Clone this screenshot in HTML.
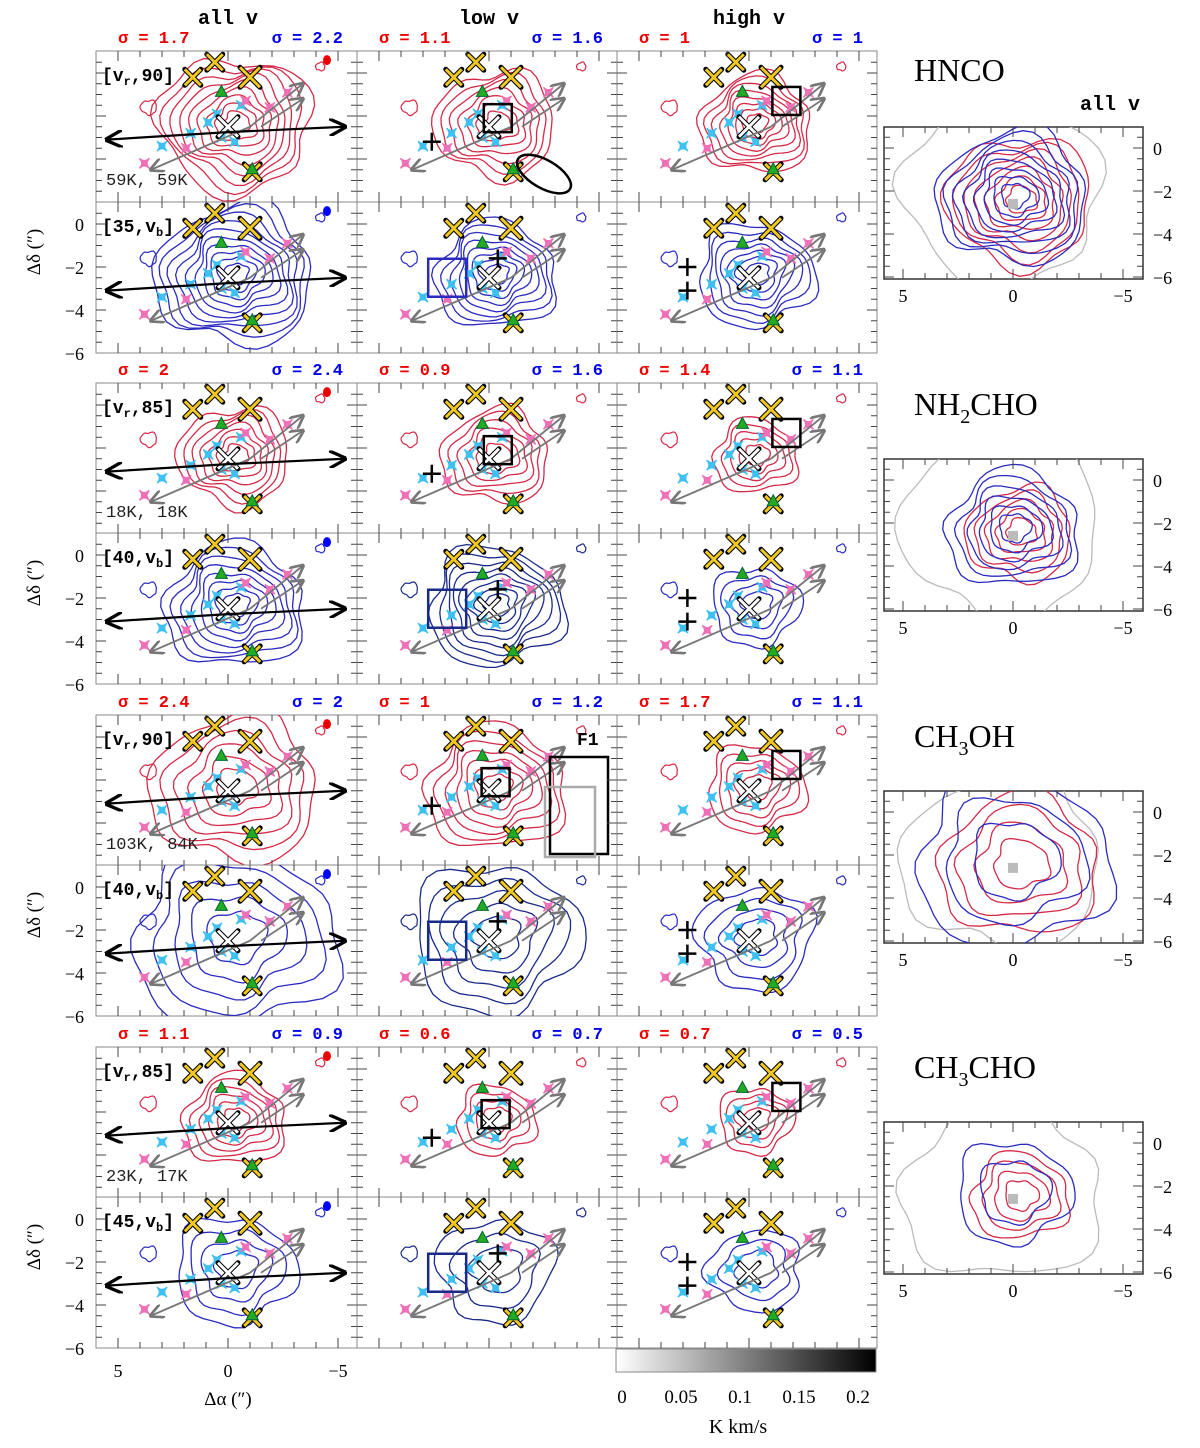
<!DOCTYPE html>
<html><head><meta charset="utf-8"><style>
html,body{margin:0;padding:0;background:#fff;}
svg{display:block;font-family:"Liberation Serif",serif;}
</style></head><body>
<svg id="fig" width="1200" height="1448" viewBox="0 0 1200 1448" xmlns="http://www.w3.org/2000/svg">
<defs>
<linearGradient id="cbar" x1="0" x2="1" y1="0" y2="0"><stop offset="0" stop-color="#fff"/><stop offset="1" stop-color="#000"/></linearGradient>
<marker id="ahB" markerWidth="8" markerHeight="8" refX="7" refY="4" orient="auto"><path d="M0,0 L8,4 L0,8" fill="none" stroke="#000" stroke-width="1.5"/></marker>
<marker id="ahG" markerWidth="8" markerHeight="8" refX="7" refY="4" orient="auto"><path d="M0,0 L8,4 L0,8" fill="none" stroke="#777" stroke-width="1.5"/></marker>
</defs>
<g id="root"></g>
</svg>
<script>
// ---- data ----
const colHeaders = ["all v","low v","high v"];
const sigmaRed  = [1.7,1.1,1, 2,0.9,1.4, 2.4,1,1.7, 1.1,0.6,0.7];
const sigmaBlue = [2.2,1.6,1, 2.4,1.6,1.1, 2,1.2,1.1, 0.9,0.7,0.5];
const molecules = ["HNCO","NH2CHO","CH3OH","CH3CHO"];
const redRangeLabels  = ["90","85","90","85"];
const blueRangeLabels = ["35","40","40","45"];
const tempLabels = ["59K, 59K","18K, 18K","103K, 84K","23K, 17K"];
// contour outer radius (arcsec) per molecule x col, and number of levels
const redOuter  = [[3.3,2.6,2.4],[2.4,2.3,1.8],[3.6,3.0,2.1],[2.2,1.7,1.6]];
const redLevels = [[9,7,8],[7,6,5],[6,7,5],[6,4,4]];
const blueOuter  = [[3.4,2.6,2.5],[3.0,2.9,1.9],[4.4,3.6,2.5],[2.6,2.5,2.0]];
const blueLevels = [[10,8,7],[8,8,4],[5,5,4],[4,3,3]];
// source markers (arcsec: dAlpha, dDelta)
const yellowX = [[0.6,0.5],[1.6,-0.2],[-1.0,-0.2],[-1.1,-4.6]];
const cyanStars = [[0.5,-1.9],[0.3,-3.0],[-0.3,-3.2],[1.7,-2.8],[0.9,-2.3],[-0.6,-1.5],[3.0,-3.4]];
const pinkStars = [[3.8,-4.2],[-0.8,-1.3],[-2.7,-0.9],[-1.9,-1.6],[1.9,-3.5]];
const greenTri = [[0.3,-0.9],[-1.1,-4.5]];
const sqLow = [[-0.4,-2.1],[-0.4,-2.1],[-0.3,-2.1],[-0.3,-2.1]];
const sqLowBlue = [[1.9,-2.5],[1.9,-2.5],[1.9,-2.5],[1.9,-2.5]];
const sqHigh = [[-1.7,-1.3],[-1.7,-1.3],[-1.7,-1.3],[-1.7,-1.3]];
const rightCbarTicks = ["0","0.05","0.1","0.15","0.2"];
const rightCbarValues = [0,0.05,0.1,0.15,0.2];

// ---- layout ----
const NS="http://www.w3.org/2000/svg";
const root=document.getElementById('root');
const colLeft=[96,357,617], colW=[261,260,260];
const rowTop=[51,202,383,533,715,865,1047,1197], rowH=151;
const SX=22, SY=21.5;
function el(tag,attrs,parent){const e=document.createElementNS(NS,tag);for(const k in attrs)e.setAttribute(k,attrs[k]);(parent||root).appendChild(e);return e;}
function txt(s,x,y,attrs,parent){const t=el('text',Object.assign({x:x,y:y},attrs),parent);t.textContent=s;return t;}

function blobPath(X,Y,cx,cy,r,ph){
  let d='';
  for(let i=0;i<=48;i++){
    const t=i/48*Math.PI*2;
    const rr=r*(1+0.09*Math.sin(3*t+ph)+0.06*Math.cos(5*t+ph*1.7)+0.04*Math.sin(7*t+ph*0.3));
    const x=X(cx+rr*Math.cos(t)*1.05), y=Y(cy+rr*Math.sin(t)*0.95);
    d+=(i?'L':'M')+x.toFixed(1)+','+y.toFixed(1);
  }
  return d+'Z';
}
function contours(g,X,Y,outer,n,color,ph,cx,cy){
  for(let k=0;k<n;k++){
    const r=outer*(1-k/(n+0.6));
    const p=el('path',{d:blobPath(X,Y,cx-0.1*k/n,cy+0.1*k/n,r,ph+k*0.5),fill:'none',stroke:color,'stroke-width':1.3},g);
    
    
  }
}
function xMark(g,X,Y,a,d,s,color){
  const x=X(a),y=Y(d);
  el('path',{d:`M${x-s},${y-s}L${x+s},${y+s}M${x-s},${y+s}L${x+s},${y-s}`,stroke:'#000','stroke-width':5,'stroke-linecap':'round'},g);
  el('path',{d:`M${x-s},${y-s}L${x+s},${y+s}M${x-s},${y+s}L${x+s},${y-s}`,stroke:color,'stroke-width':3},g);
}
function star(g,X,Y,a,d,s,color){
  const x=X(a),y=Y(d);
  el('path',{d:`M${x-s},${y-s}Q${x},${y} ${x+s},${y-s}Q${x},${y} ${x+s},${y+s}Q${x},${y} ${x-s},${y+s}Q${x},${y} ${x-s},${y-s}Z`,fill:color,stroke:color,'stroke-width':1.5},g);
}
function tri(g,X,Y,a,d){
  const x=X(a),y=Y(d);
  el('path',{d:`M${x},${y-7}L${x+6},${y+4}L${x-6},${y+4}Z`,fill:'#2a2',stroke:'#063','stroke-width':1},g);
}
function plus(g,x,y){el('path',{d:`M${x-9},${y}h18M${x},${y-9}v18`,stroke:'#000','stroke-width':2.5},g);}
function ticks(g,x0,y0,w,h,X0,Y0){
  let d='';
  for(let a=-6;a<=6;a++){const x=X0-SX*a;if(x<=x0+1||x>=x0+w-1)continue;const L=(a%5===0)?10:6;d+=`M${x},${y0}v${L}M${x},${y0+h}v${-L}`;}
  for(let dd=2;dd>=-8;dd-=0.5){const y=Y0-SY*dd;if(y<=y0+1||y>=y0+h-1)continue;const L=(dd%2===0)?10:6;d+=`M${x0},${y}h${L}M${x0+w},${y}h${-L}`;}
  el('path',{d:d,stroke:'#444','stroke-width':1,fill:'none'},g);
}

colHeaders.forEach((h,i)=>{
  const t=txt(h,colLeft[i]+132,24,{'font-family':'Liberation Mono, monospace','font-weight':'bold','font-size':20,'text-anchor':'middle'});
  
  
});

for(let m=0;m<4;m++){
  for(let rr=0;rr<2;rr++){
    const row=m*2+rr, top=rowTop[row], red=rr===0;
    for(let c=0;c<3;c++){
      const x0=colLeft[c], w=colW[c];
      const X0=x0+132, Y0=top+22;
      const X=a=>X0-SX*a, Y=d=>Y0-SY*d;
      const g=el('g',{});
      
      
      el('rect',{x:x0,y:top,width:w,height:rowH,fill:'#fff',stroke:'#888','stroke-width':1},g);
      const cp='cp'+row+'_'+c;
      const clip=el('clipPath',{id:cp},g);el('rect',{x:x0,y:top,width:w,height:rowH},clip);
      const inner=el('g',{'clip-path':`url(#${cp})`},g);
      const col = red?'#d42a48':(c===1 && m>0?'#1a2a8a':'#2b2bc0');
      const outer = red?redOuter[m][c]:blueOuter[m][c];
      const n = red?redLevels[m][c]:blueLevels[m][c];
      contours(inner,X,Y,outer,n,col,m+c*1.3+(red?0:2),-0.3,-2.4);
      el('path',{d:blobPath(X,Y,3.6,-1.6,0.35,1),fill:'none',stroke:col,'stroke-width':1.2},inner);
      el('path',{d:blobPath(X,Y,-4.2,0.3,0.2,2),fill:'none',stroke:col,'stroke-width':1.2},inner);
      cyanStars.forEach(p=>star(inner,X,Y,p[0],p[1],5,'#3ec0f0'));
      pinkStars.forEach(p=>star(inner,X,Y,p[0],p[1],5,'#f070b8'));
      yellowX.forEach((p,i)=>xMark(inner,X,Y,p[0],p[1],i===2?10:8,'#f0c820'));
      xMark(inner,X,Y,0,-2.5,10,'#fff');
      greenTri.forEach(p=>tri(inner,X,Y,p[0],p[1]));
      const ar=el('g',{},inner);
      el('line',{x1:X(-1),y1:Y(-2.5),x2:X(-3.4),y2:Y(-0.5),stroke:'#777','stroke-width':1.8,'marker-end':'url(#ahG)'},ar);
      el('line',{x1:X(-1),y1:Y(-2.5),x2:X(3.5),y2:Y(-4.5),stroke:'#777','stroke-width':1.8,'marker-end':'url(#ahG)'},ar);
      el('line',{x1:X(-1.5),y1:Y(-2.5),x2:X(-3.4),y2:Y(-1.2),stroke:'#777','stroke-width':1.8,'marker-end':'url(#ahG)'},ar);
      if(c===0){
        el('line',{x1:X(0),y1:Y(-2.75),x2:X(-5.3),y2:Y(-2.5),stroke:'#000','stroke-width':2.2,'marker-end':'url(#ahB)'},inner);
        el('line',{x1:X(0),y1:Y(-2.75),x2:X(5.5),y2:Y(-3.1),stroke:'#000','stroke-width':2.2,'marker-end':'url(#ahB)'},inner);
        el('ellipse',{cx:X(-4.5),cy:Y(0.6),rx:4,ry:5,fill:red?'#e00':'#00f'},inner);
        const t1=txt('',x0+6,top+30,{'font-size':18,'font-family':'Liberation Mono, monospace','font-weight':'bold'},g);
        const parts = red?['[v','r',','+redRangeLabels[m]+']']:['['+blueRangeLabels[m]+',v','b',']'];
        parts.forEach((p,i)=>{const ts=document.createElementNS(NS,'tspan');ts.textContent=p;if(i===1){ts.setAttribute('font-size',12);ts.setAttribute('dy',4);}if(i===2){ts.setAttribute('dy',-4);}t1.appendChild(ts);});
        
        
        if(red){const tt=txt(tempLabels[m],x0+10,top+134,{'font-size':17,'font-family':'Liberation Mono, monospace','fill':'#222'},g);
          
          }
      }
      if(c===1){
        const bs=red?sqLow[m]:sqLowBlue[m];
        const s=red?14:19;
        el('rect',{x:X(bs[0])-s,y:Y(bs[1])-s,width:2*s,height:2*s,fill:'none',stroke:red?'#000':col,'stroke-width':2.5},inner);
        if(red) plus(inner,X(2.6),Y(-3.2)); else plus(inner,X(-0.4),Y(-1.6));
        if(m===0&&red) el('ellipse',{cx:X(-2.5),cy:Y(-4.7),rx:30,ry:14,transform:`rotate(30 ${X(-2.5)} ${Y(-4.7)})`,fill:'none',stroke:'#000','stroke-width':2.5},inner);
        if(m===2&&red){
          el('rect',{x:x0+193,y:top+42,width:58,height:97,fill:'none',stroke:'#000','stroke-width':2.5},inner);
          el('rect',{x:x0+188,y:top+72,width:50,height:70,fill:'none',stroke:'#aaa','stroke-width':2.5},inner);
          txt('F1',x0+220,top+30,{'font-size':18,'font-weight':'bold','font-family':'Liberation Mono, monospace'},g);
        }
      }
      if(c===2){
        if(red){const s=14;el('rect',{x:X(sqHigh[m][0])-s,y:Y(sqHigh[m][1])-s,width:2*s,height:2*s,fill:'none',stroke:'#000','stroke-width':2.5},inner);}
        else{[[2.8,-2],[2.8,-3.1]].forEach(p=>plus(inner,X(p[0]),Y(p[1])));}
      }
      ticks(g,x0,top,w,rowH,X0,Y0);
      if(red){
        const a=txt('\u03C3 = '+sigmaRed[m*3+c],x0+22,top-8,{'font-size':17,fill:'#e00','font-family':'Liberation Mono, monospace','font-weight':'bold'},g);
        
        
        const b=txt('\u03C3 = '+sigmaBlue[m*3+c],x0+w-14,top-8,{'font-size':17,fill:'#00e','font-family':'Liberation Mono, monospace','font-weight':'bold','text-anchor':'end'},g);
        
        
      }
    }
    if(!red){
      ['0','\u22122','\u22124','\u22126'].forEach((s,i)=>txt(s,84,top+22+SY*2*i+7,{'font-size':18,'text-anchor':'end'}));
      const yl=txt('\u0394\u03B4 (\u2033)',0,0,{'font-size':19,'text-anchor':'middle',transform:`translate(40 ${top+50}) rotate(-90)`});
      
      
    }
  }
  const rt=[127,459,791,1122][m], rx0=884, rw=259, rh=152;
  const RX=a=>1013-SX*a, RY=d=>rt+21-SY*d;
  const rg=el('g',{});
  
  
  el('rect',{x:rx0,y:rt,width:rw,height:rh,fill:'#fff',stroke:'#333','stroke-width':1.5},rg);
  const rcp='rcp'+m;const rc=el('clipPath',{id:rcp},rg);el('rect',{x:rx0,y:rt,width:rw,height:rh},rc);
  const ri=el('g',{'clip-path':`url(#${rcp})`},rg);
  el('path',{d:blobPath(RX,RY,0.5,-2.3,4.3,m),fill:'none',stroke:'#bbb','stroke-width':1.3},ri);
  contours(ri,RX,RY,redOuter[m][0]*0.95,redLevels[m][0]-2,'#d42a48',m+0.7,-0.3,-2.5);
  contours(ri,RX,RY,blueOuter[m][0]*0.95,blueLevels[m][0]-2,'#2b2bc0',m+2.1,0,-2.3);
  el('rect',{x:RX(0)-5,y:RY(-2.6)-5,width:10,height:10,fill:'#bbb'},ri);
  ticks(rg,rx0,rt,rw,rh,1013,rt+21);
  ['5','0','\u22125'].forEach((s,i)=>txt(s,RX(5-5*i),rt+rh+23,{'font-size':18,'text-anchor':'middle'},rg));
  ['0','\u22122','\u22124','\u22126'].forEach((s,i)=>txt(s,rx0+rw+10,rt+21+SY*2*i+7,{'font-size':18},rg));
  const nm=[['HNCO'],['NH','2','CHO'],['CH','3','OH'],['CH','3','CHO']][m];
  const mt=txt('',rx0+30,rt-[46,44,44,44][m],{'font-size':32,'font-family':'Liberation Serif, serif'},rg);
  
  
  nm.forEach((p,i)=>{const ts=document.createElementNS(NS,'tspan');ts.textContent=p;if(i===1){ts.setAttribute('font-size',20);ts.setAttribute('dy',8);}if(i===2){ts.setAttribute('dy',-8);}mt.appendChild(ts);});
  if(m===0) txt('all v',1140,110,{'font-size':20,'font-weight':'bold','font-family':'Liberation Mono, monospace','text-anchor':'end'},rg);
}
['5','0','\u22125'].forEach((s,i)=>txt(s,228-SX*(5-5*i),1377,{'font-size':18,'text-anchor':'middle'}));
const xl=txt('\u0394\u03B1 (\u2033)',228,1405,{'font-size':19,'text-anchor':'middle'});


const cb=el('g',{});


el('rect',{x:616,y:1349,width:260,height:23,fill:'url(#cbar)',stroke:'#888','stroke-width':1},cb);
const cbX=v=>622+v/0.2*236;
rightCbarValues.forEach((v,i)=>{txt(rightCbarTicks[i],cbX(v),1403,{'font-size':19,'text-anchor':'middle'},cb);});
txt('K km/s',738,1433,{'font-size':20,'text-anchor':'middle'},cb);
</script>
</body></html>
